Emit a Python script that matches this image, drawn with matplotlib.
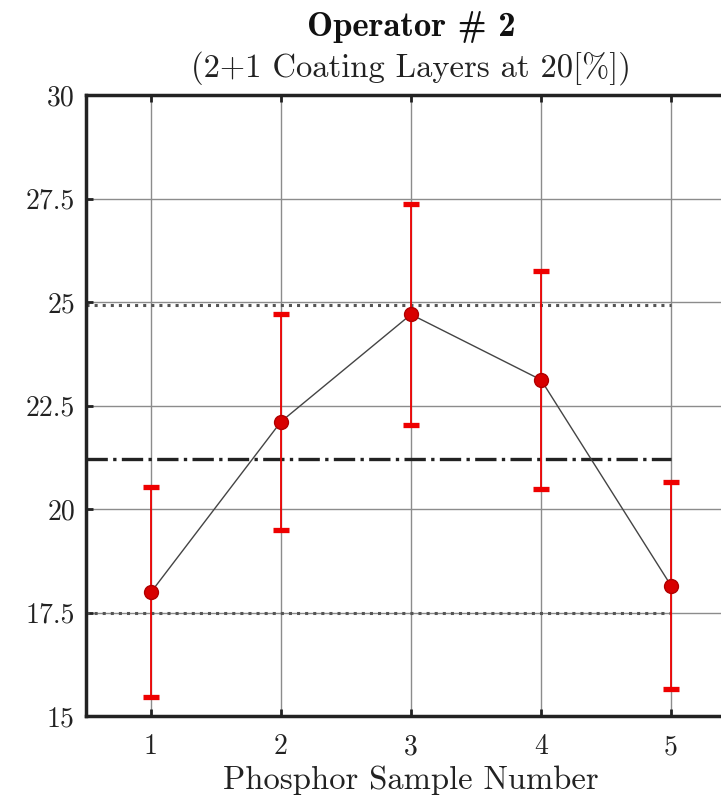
"""
Operator #2 - phosphor sample measurements with error bars
"""

import matplotlib.pyplot as plt

# Data
samples = [1, 2, 3, 4, 5]
values = [17.99, 22.11, 24.70, 23.12, 18.15]
errors = [2.53, 2.61, 2.67, 2.64, 2.50]
mean_level = 21.21
upper_level = 24.93
lower_level = 17.50

y_ticks = [15, 17.5, 20, 22.5, 25, 27.5, 30]
y_tick_labels = ["15", "17.5", "20", "22.5", "25", "27.5", "30"]
x_tick_labels = ["1", "2", "3", "4", "5"]

plt.rcParams["font.family"] = ["cmr10"]
plt.rcParams["axes.formatter.use_mathtext"] = True

fig = plt.figure(figsize=(7.21, 7.99), dpi=100)
# axes runs past the right edge of the figure, like the cropped reference
ax = fig.add_axes([86 / 721, 83 / 799, 650 / 721, 621 / 799])

ax.set_xlim(0.5, 5.5)
ax.set_ylim(15, 30)

ax.grid(True, color="#8c8c8c", linewidth=1.0, zorder=0)
ax.set_axisbelow(True)

# reference levels
ax.hlines([upper_level, lower_level], 0.5, 5, colors="#555555",
          linestyles=":", linewidth=2.2, zorder=2)
ax.hlines(mean_level, 0.5, 5, colors="#222222", linestyles="-.",
          linewidth=2.4, zorder=2)

# connecting line
ax.plot(samples, values, color="#444444", linewidth=1.0, zorder=3)

# error bars
ax.errorbar(samples, values, yerr=errors, fmt="none", ecolor="#ee0000",
            elinewidth=1.3, capsize=6, capthick=3.8, zorder=4)
ax.plot(samples, values, "o", markersize=10, markerfacecolor="#d80000",
        markeredgecolor="#b00000", markeredgewidth=1.0, linestyle="none",
        zorder=5)

ax.set_xticks(samples)
ax.set_xticklabels(x_tick_labels)
ax.set_yticks(y_ticks)
ax.set_yticklabels(y_tick_labels)
ax.tick_params(axis="both", direction="in", length=5, width=2,
               labelsize=20, colors="#222222", labelcolor="#222222",
               top=True, right=False)
ax.tick_params(axis="x", pad=13)
ax.tick_params(axis="y", pad=8)

for side in ["left", "bottom", "top"]:
    ax.spines[side].set_linewidth(2.5)
    ax.spines[side].set_color("#222222")
ax.spines["right"].set_visible(False)

ax.set_xlabel("Phosphor Sample Number", fontsize=23.5, color="#222222",
              labelpad=4)

ax.text(0.5, 1.11, "Operator # 2", transform=ax.transAxes, ha="center",
        va="center", fontsize=25, family="cmb10", color="#111111")
ax.text(0.5, 1.044, "(2+1 Coating Layers at 20[%])", transform=ax.transAxes,
        ha="center", va="center", fontsize=23.5, color="#222222")

fig.savefig("out.png", dpi=100)
